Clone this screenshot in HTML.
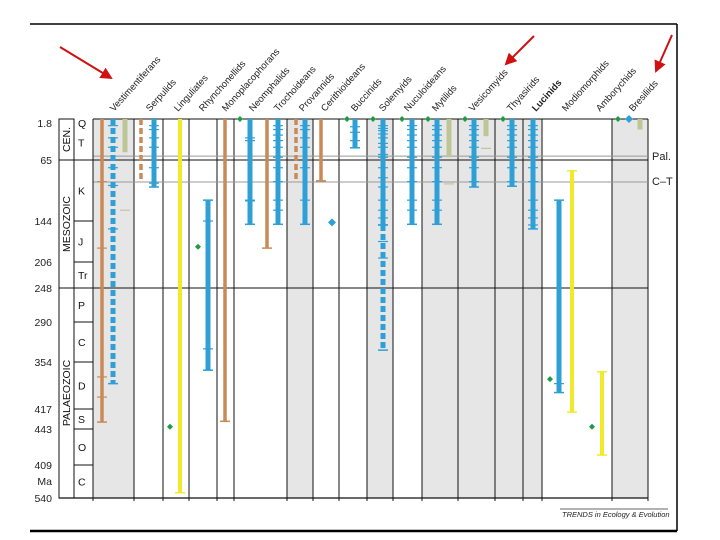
<!DOCTYPE html>
<html><head><meta charset="utf-8"><style>
html,body{margin:0;padding:0;background:#fff;}
svg{display:block;font-family:"Liberation Sans",sans-serif;}
</style></head><body>
<svg id="chart" width="720" height="540" viewBox="0 0 720 540" xmlns="http://www.w3.org/2000/svg">
<defs><marker id="ah" markerWidth="6" markerHeight="6" refX="5" refY="3" orient="auto"><path d="M0,0 L6,3 L0,6 z" fill="#d01010"/></marker></defs>
<line x1="30" y1="24" x2="677" y2="24" stroke="#000" stroke-width="1.5"/>
<line x1="677" y1="24" x2="677" y2="531" stroke="#000" stroke-width="1.5"/>
<line x1="30" y1="531" x2="677" y2="531" stroke="#000" stroke-width="2.5"/>
<g id="bg"></g>
<g id="grid"></g>
<g id="marks"></g>
<g id="labels"></g>
<g id="axis"></g>
<line x1="60" y1="47" x2="111" y2="78" stroke="#d01010" stroke-width="2" marker-end="url(#ah)"/>
<line x1="534" y1="36" x2="506" y2="64" stroke="#d01010" stroke-width="2" marker-end="url(#ah)"/>
<line x1="672" y1="35" x2="656" y2="71" stroke="#d01010" stroke-width="2" marker-end="url(#ah)"/>
<text x="652" y="160" font-size="11" fill="#222">Pal.</text>
<text x="652" y="185" font-size="11" fill="#222">C–T</text>
<line x1="560" y1="509" x2="668" y2="509" stroke="#333" stroke-width="0.8"/>
<text x="562" y="517" font-size="7.5" font-style="italic" fill="#222">TRENDS in Ecology &amp; Evolution</text>
</svg>
<script>
// ---- data ----
const taxa = ["Vestimentiferans","Serpulids","Linguliates","Rhynchonellids","Monoplacophorans","Neomphalids","Trochoideans","Provannids","Cerithioideans","Buccinids","Solemyids","Nuculoideans","Mytilids","Vesicomyids","Thyasirids","Lucinids","Modiomorphids","Amborychids","Bresiliids"];
const labelX = [114,150,178,203,226,253,278,303,325,355,383,408,436,473,511,536,566,600,633];
const columnEdges = [93,134,163,189,217,234,287,313,339,367,393,422,458,495,523,542,612,648];
const grayColumns = [0,6,9,11,12,13,14,16];
const periodBoundaries = [0,1.8,65,144,206,248,290,354,417,443,490,540];
const periodNames = ["Q","T","K","J","Tr","P","C","D","S","O","C"];
const eraNames = ["CEN.","MESOZOIC","PALAEOZOIC"];
const eraBounds = [0,65,248,540];
const tickAges = [1.8,65,144,206,248,290,354,417,443,490,540];
const tickLabels = ["1.8","65","144","206","248","290","354","417","443","409","540"];
// range bars: taxon index, slot x, colour, start Ma, end Ma
const barTaxon = [0,0,0,1,1,2,3,4,5,6,6,7,7,8,9,10,10,11,12,12,13,13,14,15,16,16,17,18];
const barX =     [102,113,125,141,154,180,208,225,250,267,278,296,305,321,355,383,383,412,437,449,474,486,512,533,559,572,602,640];
const barColor = ["b","c","o","b","c","y","c","b","c","b","c","b","c","b","c","c","c","c","c","o","c","o","c","c","c","y","y","o"];
const barStart = [0,0,0,0,0,0,117,0,0,0,0,0,0,0,0,0,150,0,0,0,0,0,0,0,117,79,367,0];
const barEnd =   [434,383,51,91,100,532,365,433,149,185,149,91,149,92,43,150,335,149,149,60,100,22,99,156,395,421,477,10];
const barDashed =[0,1,0,1,0,0,0,0,0,0,0,1,0,0,0,0,1,0,0,0,0,0,0,0,0,0,0,0];
const barCap =   [1,1,0,0,1,1,1,1,1,1,1,0,1,1,1,1,1,1,1,0,1,0,1,1,1,1,1,0];
// internal tick marks (Ma) per bar
const barTicks = [[93,185,374,401],[3,25,42,75,98,156],[],[],[3,10,25,42,75,95],[],[144,333],[],[25,30,117,118],[],[3,10,20,30,42,60,75,93,117,130],[],[3,10,25,42,75,117],[],[5,15,30],[3,8,12,18,25,35,42,55,60,75,88,100,117,130,140],[175,200],[3,10,20,30,42,60,75,93,117,130],[3,10,20,30,42,60,75,93,117,130],[],[3,10,20,30,42,60,75,93],[44],[3,10,20,30,42,60,75,93],[3,10,20,30,42,60,75,93,117,130,140,150],[383],[],[],[]];
// point occurrences
const dotX =   [240,347,373,402,428,465,503,618,170,198,550,592];
const dotAge = [0,0,0,0,0,0,0,0,440,183,377,440];
const dotKind= ["g","g","g","g","g","g","g","g","g","g","g","g"];
const diamondX = [332,629];
const diamondAge = [146,0];
const minorDashX = [125,449];
const minorDashAge = [130,96];
const refLineAges = [58,93.5];

// ---- scales ----
const axisY = [119,125,160,221,262,288,322,362,409,429,465,498];
function yOf(a){
  for(let i=0;i<periodBoundaries.length-1;i++){
    const a0=periodBoundaries[i],a1=periodBoundaries[i+1];
    if(a<=a1||i===periodBoundaries.length-2){
      return axisY[i]+(a-a0)/(a1-a0)*(axisY[i+1]-axisY[i]);
    }
  }
}
const COL={b:"#c98a56",c:"#2ea0d6",o:"#bfc695",y:"#f1ea2a",g:"#1f9a45"};
const NS="http://www.w3.org/2000/svg";
function mk(parent,tag,attrs){const e=document.createElementNS(NS,tag);for(const k in attrs)e.setAttribute(k,attrs[k]);parent.appendChild(e);return e;}
const bg=document.getElementById('bg'),grid=document.getElementById('grid'),marks=document.getElementById('marks'),labels=document.getElementById('labels'),axis=document.getElementById('axis');
const TOP=119,BOT=498;
grayColumns.forEach(i=>{
  const r=mk(bg,'rect',{x:columnEdges[i],y:TOP,width:columnEdges[i+1]-columnEdges[i],height:BOT-TOP,fill:"#e6e6e6"});
  
  
});
columnEdges.forEach(x=>{
  const l=mk(grid,'line',{x1:x,y1:TOP,x2:x,y2:BOT+3,stroke:"#111","stroke-width":1});
  
  
});
[[65,"#111"],[248,"#111"]].forEach(([a,c])=>{
  const l=mk(grid,'line',{x1:59,y1:yOf(a),x2:648,y2:yOf(a),stroke:c,"stroke-width":1});
  
  
});
refLineAges.forEach(a=>{
  const l=mk(grid,'line',{x1:93,y1:yOf(a),x2:648,y2:yOf(a),stroke:"#999","stroke-width":1});
  
  
});
mk(grid,'line',{x1:93,y1:TOP,x2:648,y2:TOP,stroke:"#111","stroke-width":1});
mk(grid,'line',{x1:59,y1:BOT,x2:648,y2:BOT,stroke:"#111","stroke-width":1.2});
mk(axis,'rect',{x:59,y:TOP,width:15,height:BOT-TOP,fill:"none",stroke:"#111"});
mk(axis,'line',{x1:93,y1:TOP,x2:93,y2:BOT,stroke:"#111"});
for(let i=0;i<eraNames.length;i++){
  const y0=yOf(eraBounds[i]),y1=yOf(eraBounds[i+1]),cy=(y0+y1)/2;
  mk(axis,'line',{x1:59,y1:y1,x2:74,y2:y1,stroke:"#111"});
  const t=mk(axis,'text',{x:70,y:cy,"font-size":10.5,fill:"#111","text-anchor":"middle",transform:`rotate(-90 70 ${cy})`});
  t.textContent=eraNames[i];
  
  
}
for(let i=0;i<periodNames.length;i++){
  const y0=yOf(periodBoundaries[i]),y1=yOf(periodBoundaries[i+1]);
  if(i>0) mk(axis,'line',{x1:74,y1:y1,x2:93,y2:y1,stroke:"#111"});
  const t=mk(axis,'text',{x:78,y:i===0?y0+8:(y0+y1)/2+4,"font-size":10.5,fill:"#111"});
  t.textContent=periodNames[i];
  
  
}
tickAges.forEach((a,i)=>{
  const y=yOf(a);
  const t=mk(axis,'text',{x:52,y:y+(i===0?2:4),"font-size":10.5,fill:"#222","text-anchor":"end"});
  t.textContent=tickLabels[i];
  
  
});
const ma=mk(axis,'text',{x:52,y:485,"font-size":10.5,fill:"#222","text-anchor":"end"});ma.textContent="Ma";


for(let i=0;i<barX.length;i++){
  const x=barX[i],c=COL[barColor[i]],y0=yOf(barStart[i]),y1=yOf(barEnd[i]);
  const w=barColor[i]==="o"?5:(barColor[i]==="y"?4:(barColor[i]==="b"?3.5:5));
  const l=mk(marks,'line',{x1:x,y1:y0,x2:x,y2:y1,stroke:c,"stroke-width":w});
  if(barDashed[i]) l.setAttribute('stroke-dasharray','6,3');
  
  
  if(barCap[i]){
    const cp=mk(marks,'line',{x1:x-5,y1:y1,x2:x+5,y2:y1,stroke:c,"stroke-width":1.5});
    
    
    if(barStart[i]>0){mk(marks,'line',{x1:x-5,y1:y0,x2:x+5,y2:y0,stroke:c,"stroke-width":1.5});}
  }
  barTicks[i].forEach(a=>{
    const tk=mk(marks,'line',{x1:x-5,y1:yOf(a),x2:x+5,y2:yOf(a),stroke:c,"stroke-width":1.2});
    
    
  });
}
minorDashX.forEach((x,i)=>{
  const d=mk(marks,'line',{x1:x-5,y1:yOf(minorDashAge[i]),x2:x+5,y2:yOf(minorDashAge[i]),stroke:"#c8b89a","stroke-width":1});
  
  
});
dotX.forEach((x,i)=>{
  const y=yOf(dotAge[i]);
  const p=mk(marks,'path',{d:`M${x},${y-3}L${x+3},${y}L${x},${y+3}L${x-3},${y}Z`,fill:COL[dotKind[i]]});
  
  
});
diamondX.forEach((x,i)=>{
  const y=yOf(diamondAge[i]);
  const p=mk(marks,'path',{d:`M${x},${y-4}L${x+4},${y}L${x},${y+4}L${x-4},${y}Z`,fill:COL.c});
  
  
});
taxa.forEach((n,i)=>{
  const x=labelX[i],y=112;
  const t=mk(labels,'text',{x:x,y:y,"font-size":9.5,fill:"#222",transform:`rotate(-48 ${x} ${y})`});
  if(n==="Lucinids") t.setAttribute('font-weight','bold');
  t.textContent=n;
  
  
});
</script>
</body></html>
